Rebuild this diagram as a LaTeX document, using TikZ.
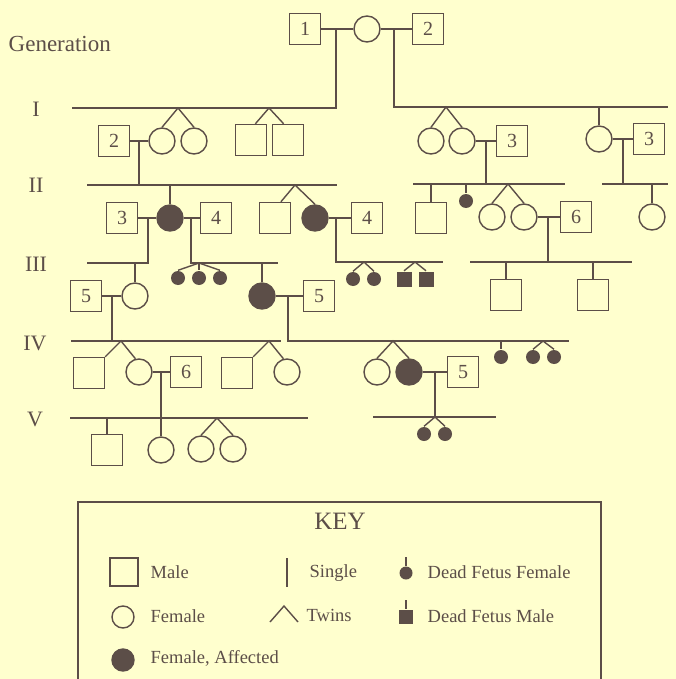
\documentclass[tikz,border=0pt]{standalone}
\usepackage{fontspec}
\setmainfont{Liberation Serif}
\definecolor{bg}{RGB}{255,255,206}
\definecolor{ink}{RGB}{92,78,72}
\begin{document}
\begin{tikzpicture}[x=1pt,y=-1pt,color=ink,line width=1.4pt,
  male/.style={rectangle,draw,fill=bg,minimum size=31pt,inner sep=0pt,font=\fontsize{20pt}{24pt}\selectfont},
  female/.style={circle,draw,fill=bg,minimum size=26pt,inner sep=0pt},
  affected/.style={circle,draw,fill=ink,minimum size=26pt,inner sep=0pt},
  fetusf/.style={circle,fill=ink,minimum size=14pt,inner sep=0pt},
  fetusm/.style={rectangle,fill=ink,minimum size=15pt,inner sep=0pt},
  gen/.style={font=\fontsize{22pt}{26pt}\selectfont,anchor=base,inner sep=0pt},
  keytext/.style={font=\fontsize{18.5pt}{22pt}\selectfont,anchor=base west,inner sep=0pt}]
\fill[bg] (0,0) rectangle (676,679);
\useasboundingbox (0,0) rectangle (676,679);

% generation labels
\node[gen,anchor=base west,font=\fontsize{23pt}{27pt}\selectfont] (lgen) at (8,52) {Generation};
\node[gen] (l1) at (36,117) {I};
\node[gen] (l2) at (36,193) {II};
\node[gen] (l3) at (36,271) {III};
\node[gen] (l4) at (35,350) {IV};
\node[gen] (l5) at (35,426) {V};

% founders
\node[male] (p1) at (305,29) {1};
\node[female] (p2) at (367,29) {};
\node[male] (p3) at (428,29) {2};
\draw (p1) -- (p2);
\draw (p2) -- (p3);
\coordinate (m01) at (336,29);
\coordinate (m02) at (394,29);
\coordinate (s1a) at (72,108); \coordinate (s1b) at (336,108);
\coordinate (s2a) at (394,107); \coordinate (s2b) at (668,107);
\draw (m01) -- (s1b) -- (s1a);
\draw (m02) -- (s2a) -- (s2b);

% generation I
\node[male] (a1) at (114,141) {2};
\node[female] (a2) at (162,141) {};
\node[female] (a3) at (194,141) {};
\coordinate (t1) at (178,108);
\draw (a2.north) -- (t1) -- (a3.north);
\draw (a1) -- (a2);
\coordinate (m11) at (139,141);
\coordinate (s3a) at (87,185); \coordinate (s3b) at (337,185);
\draw (m11) -- (m11 |- s3a);
\draw (s3a) -- (s3b);
\node[male] (a4) at (251,140) {};
\node[male] (a5) at (288,140) {};
\coordinate (t2) at (269,108);
\draw (a4.75) -- (t2) -- (a5.105);

\node[female] (a6) at (431,141) {};
\node[female] (a7) at (462,141) {};
\node[male] (a8) at (512,141) {3};
\coordinate (t3) at (446,107);
\draw (a6.north) -- (t3) -- (a7.north);
\draw (a7) -- (a8);
\coordinate (m21) at (486,141);
\coordinate (s4a) at (413,184); \coordinate (s4b) at (565,184);
\draw (m21) -- (m21 |- s4a);
\draw (s4a) -- (s4b);

\node[female] (a9) at (599,139) {};
\node[male] (a10) at (649,139) {3};
\draw (a9.north |- s2a) -- (a9.north);
\draw (a9) -- (a10);
\coordinate (m22) at (623,139);
\coordinate (s5a) at (602,184); \coordinate (s5b) at (668,184);
\draw (m22) -- (m22 |- s5a);
\draw (s5a) -- (s5b);

% generation II
\node[male] (b1) at (122,218) {3};
\node[affected] (b2) at (170,218) {};
\node[male] (b3) at (216,218) {4};
\draw (b2.north |- s3a) -- (b2.north);
\draw (b1) -- (b2);
\draw (b2) -- (b3);
\coordinate (m31) at (148,218); \coordinate (m32) at (191,218);
\coordinate (s6a) at (87,263); \coordinate (s6b) at (148,263);
\coordinate (s7a) at (191,263); \coordinate (s7b) at (278,263);
\draw (m31) -- (s6b) -- (s6a);
\draw (m32) -- (s7a) -- (s7b);
\coordinate (t31) at (199,263);
\node[fetusf] (b4) at (178,278) {};
\node[fetusf] (b5) at (199,278) {};
\node[fetusf] (b6) at (220,278) {};
\draw (t31) -- (b4.north);
\draw (t31) -- (b5.north);
\draw (t31) -- (b6.north);

\node[male] (b7) at (275,218) {};
\node[affected] (b8) at (315,218) {};
\node[male] (b9) at (367,218) {4};
\coordinate (t32) at (295,185);
\draw (b7.70) -- (t32) -- (b8.north);
\draw (b8) -- (b9);
\coordinate (m35) at (336,218);
\coordinate (s8a) at (336,262); \coordinate (s8b) at (443,262);
\draw (m35) -- (s8a) -- (s8b);
\coordinate (t33) at (364,262);
\node[fetusf] (b10) at (353,279) {};
\node[fetusf] (b11) at (374,279) {};
\draw (b10.north) -- (t33) -- (b11.north);
\coordinate (t34) at (415,262);
\node[fetusm] (b12) at (404,279) {};
\node[fetusm] (b13) at (426,279) {};
\draw (b12.north) -- (t34) -- (b13.north);

\node[male] (b14) at (431,218) {};
\draw (b14.north |- s4a) -- (b14.north);
\node[fetusf] (b15) at (466,201) {};
\draw (b15.north |- s4a) -- (b15.north);
\coordinate (t41) at (508,184);
\node[female] (b16) at (492,217) {};
\node[female] (b17) at (524,217) {};
\draw (b16.north) -- (t41) -- (b17.north);
\node[male] (b18) at (576,217) {6};
\draw (b17) -- (b18);
\coordinate (m41) at (548,217);
\coordinate (s9a) at (470,262); \coordinate (s9b) at (632,262);
\draw (m41) -- (m41 |- s9a);
\draw (s9a) -- (s9b);
\node[female] (b19) at (652,217) {};
\draw (b19.north |- s5a) -- (b19.north);

% generation III
\node[male] (c1) at (86,296) {5};
\node[female] (c2) at (135,296) {};
\draw (c2.north |- s6a) -- (c2.north);
\draw (c1) -- (c2);
\coordinate (m51) at (112,296);
\node[affected] (c3) at (262,296) {};
\draw (c3.north |- s7a) -- (c3.north);
\node[male] (c4) at (319,296) {5};
\draw (c3) -- (c4);
\coordinate (m52) at (288,296);
\node[male] (c5) at (506,295) {};
\node[male] (c6) at (593,295) {};
\draw (c5.north |- s9a) -- (c5.north);
\draw (c6.north |- s9a) -- (c6.north);

% generation IV
\coordinate (s10a) at (71,341); \coordinate (s10b) at (281,341);
\draw (m51) -- (m51 |- s10a);
\draw (s10a) -- (s10b);
\coordinate (s11a) at (288,341); \coordinate (s11b) at (569,341);
\draw (m52) -- (s11a) -- (s11b);

\coordinate (t51) at (121,341);
\node[male] (d1) at (89,373) {};
\node[female] (d2) at (139,372) {};
\draw (d1.north east) -- (t51) -- (d2.105);
\node[male] (d3) at (186,372) {6};
\draw (d2) -- (d3);
\coordinate (m61) at (161,372);
\coordinate (t52) at (269,341);
\node[male] (d4) at (237,373) {};
\node[female] (d5) at (287,372) {};
\draw (d4.north east) -- (t52) -- (d5.105);

\coordinate (t53) at (393,341);
\node[female] (d6) at (377,372) {};
\node[affected] (d7) at (409,372) {};
\draw (d6.north) -- (t53) -- (d7.north);
\node[male] (d8) at (463,372) {5};
\draw (d7) -- (d8);
\coordinate (m62) at (435,372);
\node[fetusf] (d9) at (501,357) {};
\draw (d9.north |- s11a) -- (d9.north);
\coordinate (t54) at (543,341);
\node[fetusf] (d10) at (533,357) {};
\node[fetusf] (d11) at (554,357) {};
\draw (d10.north) -- (t54) -- (d11.north);

% generation V
\coordinate (s12a) at (70,418); \coordinate (s12b) at (308,418);
\draw (s12a) -- (s12b);
\node[male] (e1) at (107,450) {};
\draw (e1.north |- s12a) -- (e1.north);
\node[female] (e2) at (161,450) {};
\draw (m61) -- (e2.north);
\coordinate (t61) at (217,418);
\node[female] (e3) at (201,449) {};
\node[female] (e4) at (233,449) {};
\draw (e3.north) -- (t61) -- (e4.north);
\coordinate (s13a) at (373,417); \coordinate (s13b) at (496,417);
\draw (s13a) -- (s13b);
\coordinate (t62) at (435,417);
\draw (m62) -- (t62);
\node[fetusf] (e5) at (424,434) {};
\node[fetusf] (e6) at (445,434) {};
\draw (e5.north) -- (t62) -- (e6.north);

% key
\coordinate (k0a) at (78,690); \coordinate (k0b) at (78,502);
\coordinate (k0c) at (601,502); \coordinate (k0d) at (601,690);
\draw (k0a) -- (k0b) -- (k0c) -- (k0d);
\node[anchor=base,inner sep=0pt,font=\fontsize{25pt}{30pt}\selectfont] (ktitle) at (340,529) {KEY};
\node[male,minimum size=28pt] (k1) at (124,572) {};
\node[keytext] (k1t) at (150,578) {Male};
\node[female,minimum size=22pt] (k2) at (123,617) {};
\node[keytext] (k2t) at (150,622) {Female};
\node[affected,minimum size=22pt] (k3) at (123,660) {};
\node[keytext] (k3t) at (150,663) {Female, Affected};
\coordinate (k4a) at (287,558); \coordinate (k4b) at (287,587);
\draw (k4a) -- (k4b);
\node[keytext] (k4t) at (309,577) {Single};
\coordinate (k5a) at (270,622); \coordinate (k5b) at (284,606); \coordinate (k5c) at (298,622);
\draw (k5a) -- (k5b) -- (k5c);
\node[keytext] (k5t) at (306,621) {Twins};
\node[fetusf,minimum size=13pt] (k6) at (406,573) {};
\coordinate (k6a) at (406,557);
\draw (k6a) -- (k6.north);
\node[keytext] (k6t) at (427,578) {Dead Fetus Female};
\node[fetusm,minimum size=14pt] (k7) at (406,617) {};
\coordinate (k7a) at (406,600);
\draw (k7a) -- (k7.north);
\node[keytext] (k7t) at (427,622) {Dead Fetus Male};
\end{tikzpicture}
\end{document}
